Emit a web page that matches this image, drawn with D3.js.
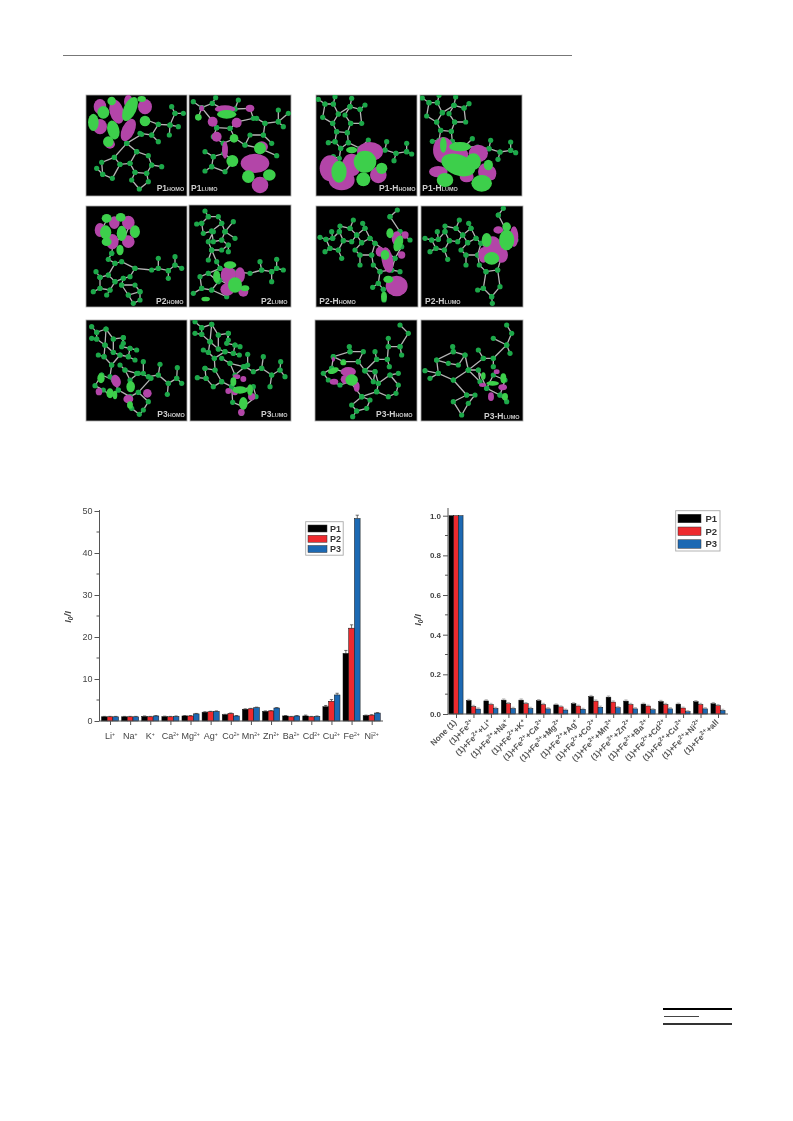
<!DOCTYPE html>
<html><head><meta charset="utf-8">
<script src="https://cdnjs.cloudflare.com/ajax/libs/d3/7.8.5/d3.min.js"></script>
<style>html,body{margin:0;padding:0;background:#fff}svg{display:block}text{font-family:"Liberation Sans",Arial,sans-serif}</style>
</head><body><svg id="c" width="793" height="1121"></svg>
<script>
// ---- chart data ----
const seriesNames = ["P1","P2","P3"];
const ionLabels = ["Li^{+}","Na^{+}","K^{+}","Ca^{2+}","Mg^{2+}","Ag^{+}","Co^{2+}","Mn^{2+}","Zn^{2+}","Ba^{2+}","Cd^{2+}","Cu^{2+}","Fe^{2+}","Ni^{2+}"];
const ionP1 = [1.0,1.0,1.1,1.05,1.2,2.1,1.5,2.8,2.3,1.2,1.2,3.4,16.1,1.3];
const ionP2 = [1.0,1.0,1.0,1.0,1.2,2.2,1.8,2.9,2.4,1.0,1.0,4.7,22.1,1.4];
const ionP3 = [1.0,1.0,1.2,1.1,1.7,2.3,1.2,3.2,3.1,1.2,1.1,6.2,48.2,1.9];
const ionErrP1 = [.1,.1,.1,.1,.1,.1,.1,.1,.1,.1,.2,.3,.7,.1];
const ionErrP2 = [.1,.1,.1,.1,.1,.1,.1,.1,.1,.1,.1,.4,.8,.1];
const ionErrP3 = [.1,.1,.1,.1,.1,.1,.1,.1,.1,.1,.1,.4,.8,.1];
const mixLabels = ["None (1)","(1)+Fe^{2+}","(1)+Fe^{2+}+Li^{+}","(1)+Fe^{2+}+Na^{+}","(1)+Fe^{2+}+K^{+}","(1)+Fe^{2+}+Ca^{2+}","(1)+Fe^{2+}+Mg^{2+}","(1)+Fe^{2+}+Ag^{+}","(1)+Fe^{2+}+Co^{2+}","(1)+Fe^{2+}+Mn^{2+}","(1)+Fe^{2+}+Zn^{2+}","(1)+Fe^{2+}+Ba^{2+}","(1)+Fe^{2+}+Cd^{2+}","(1)+Fe^{2+}+Cu^{2+}","(1)+Fe^{2+}+Ni^{2+}","(1)+Fe^{2+}+all"];
const mixP1 = [1,.068,.066,.07,.07,.067,.046,.052,.088,.085,.065,.05,.063,.05,.062,.052];
const mixP2 = [1,.038,.048,.052,.052,.048,.036,.04,.065,.06,.048,.04,.048,.03,.048,.042];
const mixP3 = [1,.025,.028,.028,.028,.026,.02,.024,.034,.032,.026,.022,.026,.012,.026,.018];
const mixErr = [0,.006,.006,.006,.006,.006,.005,.005,.006,.006,.006,.005,.006,.005,.006,.006];
const colors = ["#000000","#ee2a2e","#1f69b3"];
const axisGrey = "#555";

const svg = d3.select("#c");
const defs = svg.append("defs");
function blur(id,s){defs.append("filter").attr("id",id).attr("x","-10%").attr("y","-10%").attr("width","120%").attr("height","120%")
  .append("feGaussianBlur").attr("stdDeviation",s);}
blur("soft",0.6);blur("soft2",0.5);blur("blob",0.5);

// page rules
const rules = [[63,572,55.5,1,"#777"],[663,732,1009,2,"#000"],[664,699,1016.5,1,"#444"],[663,732,1024,2,"#333"]];
svg.selectAll("line.rule").data(rules).join("line").attr("class","rule")
  .attr("x1",d=>d[0]).attr("x2",d=>d[1]).attr("y1",d=>d[2]).attr("y2",d=>d[2])
  .attr("stroke-width",d=>d[3]).attr("stroke",d=>d[4]);

// rich text: x^{sup}
function rich(sel,str,supSize){
  sel.text(null);
  const parts = str.split(/(\^\{[^}]*\})/).filter(s=>s);
  let up=false;
  parts.forEach(p=>{
    if(p.startsWith("^{")){
      sel.append("tspan").attr("dy",-3).attr("font-size",supSize).text(p.slice(2,-1));up=true;
    } else {
      const t=sel.append("tspan").text(p);
      if(up){t.attr("dy",3);up=false;}
    }
  });
}

function barChart(o){
  const g = svg.append("g").attr("filter","url(#soft2)");
  const x0 = d3.scalePoint().domain(o.labels).range([o.first,o.last]);
  const x1 = d3.scaleBand().domain(seriesNames).range([-o.bw*1.5,o.bw*1.5]);
  const y = d3.scaleLinear().domain([0,o.max]).range([o.y0,o.yTop]);
  const values = [o.p1,o.p2,o.p3];
  values.forEach((vals,si)=>{
    const gs=g.append("g");
    gs.selectAll("rect").data(vals).join("rect")
      .attr("x",(d,i)=>x0(o.labels[i])+x1(seriesNames[si]))
      .attr("width",x1.bandwidth())
      .attr("y",d=>y(d)).attr("height",d=>o.y0-y(d))
      .attr("fill",colors[si]).attr("stroke","#111").attr("stroke-width",0.5);
    const errs=o.errs[si];
    const cx=i=>x0(o.labels[i])+x1(seriesNames[si])+x1.bandwidth()/2;
    gs.selectAll("path").data(vals).join("path")
      .attr("d",(d,i)=>errs[i]?`M${cx(i)},${y(d)}V${y(d+errs[i])}M${cx(i)-1.6},${y(d+errs[i])}H${cx(i)+1.6}`:null)
      .attr("stroke",o.errColor).attr("stroke-width",0.7).attr("fill","none");
  });
  const yAxis = d3.axisLeft(y).tickValues(o.yTicks).tickSize(5).tickPadding(2).tickFormat(o.fmt);
  const ya = g.append("g").attr("transform",`translate(${o.xAxis},0)`).call(yAxis);
  ya.selectAll("text").attr("font-size",o.fs).attr("font-weight",o.weight).attr("fill","#444");
  ya.selectAll("line").attr("stroke",axisGrey);
  ya.select(".domain").attr("stroke",axisGrey).attr("d",`M0,${o.y0}V${o.yEnd}`);
  g.append("g").attr("transform",`translate(${o.xAxis},0)`).selectAll("line").data(o.yMinor).join("line")
    .attr("x1",-3).attr("x2",0).attr("y1",d=>y(d)).attr("y2",d=>y(d)).attr("stroke",axisGrey);
  const xAxis = d3.axisBottom(x0).tickSize(4).tickFormat("");
  const xa = g.append("g").attr("transform",`translate(0,${o.y0})`).call(xAxis);
  xa.selectAll("line").attr("stroke",axisGrey);
  xa.select(".domain").attr("stroke",axisGrey).attr("d",`M${o.xAxis},0H${o.xEnd}`);
  o.labelFn(g,x0);
  const yt=g.append("text").attr("transform",`translate(${o.ytx},${o.yty}) rotate(-90)`)
    .attr("text-anchor","middle").attr("font-size",o.ytFs).attr("font-style","italic").attr("font-weight","bold").attr("fill","#444");
  yt.append("tspan").text("I");
  yt.append("tspan").attr("dy",2).attr("font-size",o.ytFs*0.7).text("0");
  yt.append("tspan").attr("dy",-2).text("/I");
  const lg=o.legend;
  g.append("rect").attr("x",lg.x).attr("y",lg.y).attr("width",lg.w).attr("height",lg.h)
    .attr("fill","#fff").attr("stroke","#aaa").attr("stroke-width",0.9);
  const ly=d3.scalePoint().domain(seriesNames).range([lg.y0,lg.y1]);
  seriesNames.forEach((s,i)=>{
    g.append("rect").attr("x",lg.sx).attr("y",ly(s)-lg.sh/2).attr("width",lg.sw).attr("height",lg.sh)
      .attr("fill",colors[i]).attr("stroke","#333").attr("stroke-width",0.5);
    g.append("text").attr("x",lg.tx).attr("y",ly(s)+lg.fs*0.36).attr("font-size",lg.fs).attr("font-weight","bold").attr("fill","#333").text(s);
  });
}

barChart({labels:ionLabels,first:110,last:371.7,bw:5.7,max:50,y0:721,yTop:511,yEnd:510,
  p1:ionP1,p2:ionP2,p3:ionP3,errs:[ionErrP1,ionErrP2,ionErrP3],errColor:"#333",
  xAxis:99.5,xEnd:383,yTicks:[0,10,20,30,40,50],yMinor:[5,15,25,35,45],fmt:d3.format("d"),fs:9,weight:"normal",
  ytx:71,yty:617,ytFs:9.5,
  labelFn:(g,x0)=>{
    g.selectAll("text.tl").data(ionLabels).join("text").attr("class","tl")
      .attr("x",d=>x0(d)).attr("y",739).attr("text-anchor","middle").attr("font-size",9).attr("fill","#444")
      .each(function(d){rich(d3.select(this),d,5);});
  },
  legend:{x:305.7,y:521.7,w:37.5,h:33.5,sx:308,sw:19,sh:7,y0:528.5,y1:549,tx:330,fs:9}
});

barChart({labels:mixLabels,first:456,last:718,bw:4.7,max:1,y0:714,yTop:515.7,yEnd:508,
  p1:mixP1,p2:mixP2,p3:mixP3,errs:[mixErr,mixErr,mixErr],errColor:"#999",
  xAxis:448,xEnd:728,yTicks:[0,.2,.4,.6,.8,1],yMinor:[.1,.3,.5,.7,.9],fmt:d3.format(".1f"),fs:8,weight:"bold",
  ytx:421,yty:620,ytFs:9.5,
  labelFn:(g,x0)=>{
    g.selectAll("text.tl").data(mixLabels).join("text").attr("class","tl")
      .attr("transform",d=>`translate(${x0(d)+1},${723}) rotate(-45)`)
      .attr("text-anchor","end").attr("font-size",8.2).attr("font-weight","bold").attr("fill","#555")
      .each(function(d){rich(d3.select(this),d,6.2);});
  },
  legend:{x:675.7,y:510.7,w:44.3,h:40.3,sx:678,sw:23,sh:8.5,y0:518.5,y1:544,tx:705.5,fs:9.5}
});

// ---- orbital illustration panels (coordinates are in 3x crop pixels) ----
const M="#b345a8", G="#3ecf4c";
const molP1H = [[[25,28],[45,42],[70,42],[75,20]],[[45,42],[38,82],[68,100],[85,72],[70,42]],[[85,72],[120,50],[125,25]],[[120,50],[150,58],[165,45]],[[150,58],[155,100],[122,100],[105,75],[120,50]],[[68,100],[80,125],[112,128],[122,100]],[[80,125],[75,155],[55,158]],[[75,155],[92,175],[115,158],[112,128]],[[92,175],[88,205],[70,200]],[[115,158],[150,175],[175,150]],[[150,175],[190,175],[225,180],[258,190],[290,185],[305,192]],[[225,180],[230,155]],[[258,190],[252,212]],[[290,185],[290,160]]];
const panels = [
 {ox:80,oy:85,x:86,y:95,w:101,h:101,label:"P1",sub:"HOMO",lx:230,ly:319,
  blobs:[[60,65,18,22,0,M],[110,80,20,36,-15,M],[145,50,12,20,0,M],[195,65,20,22,0,M],[60,125,20,22,0,M],[145,135,18,35,25,M],[90,178,14,12,0,M],[70,82,17,18,0,G],[40,112,15,25,0,G],[150,72,18,38,25,G],[100,135,17,28,-15,G],[195,108,15,15,0,G],[85,170,15,15,0,G],[95,48,12,12,0,G],[185,42,12,8,0,G]],
  bonds:[[[140,175],[170,200],[150,235],[120,238],[103,217],[140,175]],[[150,235],[165,262],[200,265],[215,240],[205,212],[170,200]],[[165,262],[155,285],[178,312],[205,290],[200,265]],[[120,238],[97,280],[68,268],[65,232],[103,217]],[[68,268],[50,250]],[[215,240],[245,245]],[[140,175],[185,148],[180,145],[215,150],[235,118],[270,120],[285,85],[310,85]],[[285,85],[275,65]],[[270,120],[295,125]],[[270,120],[268,150]],[[235,118],[200,105]],[[215,150],[235,170]]]},
 {ox:80,oy:85,x:189,y:95,w:102,h:101,label:"P1",sub:"LUMO",lx:333,ly:319,
  blobs:[[365,70,6,8,0,M],[435,72,30,10,0,M],[510,70,12,10,0,M],[398,110,14,14,0,M],[470,113,14,14,0,M],[410,155,14,14,0,M],[435,195,8,25,0,M],[545,185,18,15,0,M],[525,235,42,28,0,M],[540,300,24,24,0,M],[355,97,9,9,0,G],[440,88,28,12,0,G],[540,190,17,17,0,G],[462,160,12,12,0,G],[457,228,17,17,0,G],[505,275,18,18,0,G],[568,270,18,16,0,G]],
  bonds:[[[340,50],[365,68],[355,97]],[[365,68],[397,55],[407,38]],[[397,55],[430,72],[465,72],[475,45]],[[465,72],[510,70],[520,100],[475,110],[450,130],[410,128],[395,105],[365,68]],[[450,130],[465,160],[430,175],[400,155],[410,128]],[[430,175],[432,205],[400,215],[375,200]],[[400,215],[395,245],[375,258]],[[395,245],[435,260],[460,228],[432,205]],[[465,160],[495,180],[510,150],[550,150],[555,115],[595,110],[595,75]],[[555,115],[530,100]],[[595,110],[625,85]],[[595,110],[610,125]],[[550,150],[575,175]],[[495,180],[540,190]],[[540,190],[590,212]]]},
 {ox:310,oy:90,x:316,y:95,w:101,h:101,label:"P1-H",sub:"HOMO",lx:207,ly:302,
  blobs:[[60,235,30,38,0,M],[95,270,38,30,0,M],[125,225,28,33,0,M],[180,185,38,28,0,M],[205,255,24,24,0,M],[87,245,22,32,0,G],[165,215,33,32,0,G],[160,268,20,20,0,G],[215,235,16,16,0,G],[125,180,16,9,0,G]],
  bonds:molP1H},
 {ox:310,oy:90,x:420,y:95,w:102,h:101,label:"P1-H",sub:"LUMO",lx:337,ly:302,dx:312,dy:-4,
  blobs:[[400,180,30,38,0,M],[440,195,34,27,0,M],[505,190,28,25,0,M],[385,245,27,16,0,M],[470,260,20,16,0,M],[525,245,20,24,0,M],[545,250,13,20,0,M],[450,170,32,13,0,G],[445,225,52,30,20,G],[490,215,22,24,0,G],[405,270,24,20,0,G],[515,280,30,24,0,G],[535,225,13,15,0,G],[400,165,9,22,0,G]],
  bonds:molP1H},
 {ox:80,oy:200,x:86,y:206,w:101,h:101,label:"P2",sub:"HOMO",lx:228,ly:311,
  blobs:[[60,90,15,20,0,M],[103,68,15,18,0,M],[145,68,18,20,0,M],[97,125,18,22,0,M],[145,125,18,18,0,M],[160,95,10,14,0,M],[80,55,14,12,0,G],[122,52,14,12,0,G],[77,97,16,20,0,G],[165,95,14,18,0,G],[125,100,14,22,0,G],[120,150,10,15,0,G],[80,125,14,12,0,G]],
  bonds:[[[60,100],[80,60],[120,50],[150,70],[135,110],[100,125],[75,100],[60,100]],[[100,125],[95,160]],[[95,160],[85,178],[105,190],[125,185],[165,205],[150,230],[130,235],[105,245],[85,225],[105,190]],[[60,232],[48,215]],[[60,232],[85,225]],[[105,245],[90,270],[60,265],[60,232]],[[60,265],[40,275]],[[90,270],[80,285]],[[165,205],[215,210],[235,205],[265,212],[285,195],[305,205]],[[235,205],[235,175]],[[265,212],[265,235]],[[285,195],[285,170]],[[130,235],[125,255],[145,285],[180,275],[165,255],[125,255]],[[145,285],[160,310],[180,300],[180,275]]]},
 {ox:80,oy:200,x:189,y:205,w:102,h:102,label:"P2",sub:"LUMO",lx:543,ly:311,
  blobs:[[445,225,22,25,0,M],[480,225,14,22,0,M],[442,268,20,18,0,M],[490,275,14,14,0,M],[410,230,10,18,0,G],[450,195,18,10,0,G],[465,255,20,22,0,G],[495,265,12,8,0,G],[377,297,12,6,0,G]],
  bonds:[[[375,33],[385,50],[365,70],[350,72]],[[365,70],[370,100],[395,93],[400,125],[425,120],[445,135],[425,150],[395,150],[385,125],[400,95]],[[395,93],[425,70],[415,50],[385,50]],[[425,70],[435,95],[460,65]],[[435,95],[425,120]],[[435,95],[465,115]],[[445,135],[445,155]],[[395,150],[385,180]],[[395,150],[410,185],[420,205],[460,215],[510,220],[545,210],[575,215],[590,205],[610,210]],[[545,210],[540,185]],[[575,215],[575,245]],[[590,205],[590,178]],[[420,205],[385,220],[360,230],[365,265],[395,270],[415,245],[385,220]],[[365,265],[340,280]],[[395,270],[440,290],[455,260],[420,240]]]},
 {ox:310,oy:200,x:316,y:206,w:102,h:101,label:"P2-H",sub:"HOMO",lx:28,ly:313,
  blobs:[[260,258,32,30,0,M],[232,180,16,38,-10,M],[210,155,12,14,0,M],[260,115,14,20,0,M],[285,105,10,10,0,M],[275,165,10,10,0,M],[225,165,12,14,0,G],[235,238,14,10,0,G],[222,290,8,14,0,G],[265,130,12,24,20,G],[240,100,10,14,0,G]],
  bonds:[[[30,112],[48,118],[68,115],[65,95]],[[48,118],[60,145],[85,150],[100,122],[88,95],[68,115]],[[60,145],[45,155]],[[85,150],[95,175]],[[100,122],[125,125],[140,105],[120,85],[90,78],[88,95]],[[120,85],[130,60]],[[140,105],[165,85],[158,70]],[[140,105],[155,128],[180,115],[165,85]],[[155,128],[135,150],[150,165],[185,165],[195,130],[180,115]],[[150,165],[150,195]],[[185,165],[190,195],[210,215],[245,210],[255,175],[195,130]],[[210,215],[205,250],[220,268]],[[205,250],[188,262]],[[220,268],[222,300]],[[245,210],[270,215]],[[255,175],[275,140],[270,95],[240,50]],[[270,95],[300,120]],[[240,50],[262,30]]]},
 {ox:310,oy:200,x:421,y:206,w:102,h:101,label:"P2-H",sub:"LUMO",lx:345,ly:313,
  blobs:[[548,150,28,40,0,M],[520,165,14,22,0,M],[575,165,18,22,0,M],[612,110,12,30,0,M],[565,90,14,10,0,M],[590,120,22,30,0,G],[545,175,22,18,0,G],[530,120,14,20,0,G],[590,80,12,12,0,G]],
  bonds:[[[345,115],[365,120],[385,118],[382,95]],[[365,120],[378,145],[403,150],[418,122],[405,95],[385,118]],[[378,145],[360,155]],[[403,150],[413,178]],[[418,122],[443,125],[458,105],[438,85],[405,78],[405,95]],[[438,85],[448,60]],[[458,105],[483,85],[476,70]],[[458,105],[473,128],[498,115],[483,85]],[[473,128],[453,150],[468,165],[503,165],[513,130],[498,115]],[[468,165],[468,195]],[[503,165],[508,195],[528,215],[563,210],[573,175],[513,130]],[[528,215],[520,265],[545,290],[570,260],[563,210]],[[520,265],[503,270]],[[545,290],[547,310]],[[573,175],[593,140],[588,90],[565,45]],[[588,90],[618,120]],[[565,45],[580,25]]]},
 {ox:80,oy:315,x:86,y:320,w:101,h:101,label:"P3",sub:"HOMO",lx:232,ly:305,
  blobs:[[108,198,13,18,-20,M],[57,230,9,10,0,M],[145,252,14,12,0,M],[202,235,12,12,0,M],[63,190,10,14,0,G],[152,215,12,16,0,G],[90,235,10,14,0,G],[105,240,6,12,0,G],[150,270,8,10,0,G]],
  bonds:[[[35,35],[50,52],[78,42],[100,72],[130,68],[125,95],[150,100],[145,125],[120,120],[100,112],[75,90],[50,72],[35,70]],[[50,52],[50,72]],[[78,42],[75,90]],[[100,72],[100,112]],[[130,68],[130,85]],[[150,100],[170,105]],[[145,125],[165,135]],[[75,90],[72,125],[95,150],[120,120]],[[72,125],[55,120]],[[95,150],[90,185]],[[120,150],[135,165],[150,195],[175,175],[205,185],[235,180],[265,205],[290,190],[305,205]],[[135,165],[170,175]],[[190,175],[190,140]],[[235,180],[240,148]],[[265,205],[262,238]],[[290,190],[292,158]],[[65,180],[45,212],[70,225],[90,240],[115,225],[100,195],[65,180]],[[115,225],[150,245],[175,232],[205,260],[190,285],[178,298],[155,280],[150,245]],[[175,232],[213,190]]]},
 {ox:80,oy:315,x:190,y:320,w:101,h:101,label:"P3",sub:"LUMO",lx:543,ly:305,
  blobs:[[470,185,10,6,0,M],[490,192,8,8,0,M],[445,228,8,8,0,M],[465,232,8,8,0,M],[515,245,10,10,0,M],[484,292,9,10,0,M],[480,225,22,10,0,G],[460,200,8,12,0,G],[490,265,12,18,0,G],[510,225,8,16,0,G]],
  bonds:[[[345,20],[365,38],[395,28],[415,60],[445,55],[440,85],[465,90],[460,115],[435,110],[415,102],[390,80],[365,58],[345,55]],[[365,38],[365,58]],[[395,28],[390,80]],[[415,60],[415,102]],[[445,55],[445,75]],[[465,90],[480,95]],[[460,115],[478,120]],[[390,80],[385,112],[403,130],[435,110]],[[385,112],[370,105]],[[403,130],[405,165]],[[425,130],[450,145],[465,180],[495,155],[520,170],[545,160],[575,180],[600,165],[615,185]],[[450,145],[490,155]],[[503,150],[503,118]],[[545,160],[550,125]],[[575,180],[570,215]],[[600,165],[602,140]],[[375,160],[378,190],[400,215],[425,200],[405,165],[375,160]],[[378,190],[352,188]],[[425,200],[455,215],[480,225],[520,215],[528,245],[490,275],[458,262],[455,215]],[[490,275],[485,295]]]},
 {ox:310,oy:300,x:315,y:320,w:102,h:101,label:"P3-H",sub:"HOMO",lx:198,ly:352,
  blobs:[[115,215,22,13,0,M],[105,238,12,12,0,M],[72,245,12,8,0,M],[140,260,8,14,0,M],[70,178,4,6,0,M],[70,212,16,8,-20,G],[125,240,18,16,0,G],[100,188,8,7,0,G]],
  bonds:[[[270,75],[295,100],[270,140],[235,140],[232,178],[200,178],[195,155]],[[270,140],[275,165]],[[235,140],[235,115]],[[232,178],[238,200]],[[200,178],[165,212],[190,245],[195,215],[165,212]],[[195,215],[205,250],[200,275],[235,290],[258,280],[265,255],[240,225],[205,250]],[[240,225],[265,220]],[[200,275],[155,290],[180,300],[170,325],[140,333],[125,315],[155,290]],[[140,333],[128,350]],[[155,290],[120,245],[90,255],[55,240],[40,220],[65,205],[100,215],[120,245]],[[65,205],[70,170],[120,155],[160,155],[145,185],[100,185],[70,170]],[[145,185],[165,212]],[[120,155],[118,140]]]},
 {ox:310,oy:300,x:421,y:320,w:102,h:101,label:"P3-H",sub:"LUMO",lx:522,ly:357,
  blobs:[[518,255,10,5,0,M],[543,290,8,12,0,M],[578,262,12,8,0,M],[560,215,8,6,0,M],[520,228,6,10,0,G],[585,290,8,10,0,G],[580,235,8,14,0,G],[548,250,18,6,0,G]],
  bonds:[[[590,75],[605,100],[590,135],[550,175],[520,175],[505,150]],[[590,135],[600,160]],[[550,175],[550,200]],[[590,135],[550,115]],[[520,175],[475,210],[510,245],[505,210],[475,210]],[[475,210],[430,240],[385,220],[345,212]],[[385,220],[360,235]],[[385,220],[380,180],[430,155],[465,165],[445,195],[415,190],[380,180]],[[430,155],[428,140]],[[465,165],[475,210]],[[430,240],[470,285],[495,285],[475,310],[455,345],[430,305],[470,285]],[[505,210],[530,265],[570,285],[585,240],[550,225],[530,265]],[[570,285],[590,305]]]}
];
const gPanels = svg.append("g").attr("filter","url(#soft)");
panels.forEach(p=>{
  const px=d3.scaleLinear().domain([0,3]).range([p.ox,p.ox+1]);
  const py=d3.scaleLinear().domain([0,3]).range([p.oy,p.oy+1]);
  const dx=p.dx||0, dy=p.dy||0;
  const g=gPanels.append("g");
  g.append("rect").attr("x",p.x).attr("y",p.y).attr("width",p.w).attr("height",p.h)
    .attr("fill","#000").attr("stroke","#aaa").attr("stroke-width",0.8);
  const clipId="clip"+p.x+"_"+p.y;
  defs.append("clipPath").attr("id",clipId).append("rect").attr("x",p.x).attr("y",p.y).attr("width",p.w).attr("height",p.h);
  const inner=g.append("g").attr("clip-path",`url(#${clipId})`);
  const pts=p.bonds.map(l=>l.map(q=>[q[0]+dx,q[1]+dy]));
  const line=d3.line().x(d=>px(d[0])).y(d=>py(d[1]));
  inner.selectAll("path.b").data(pts).join("path").attr("class","b").attr("d",line)
    .attr("fill","none").attr("stroke","#b5b5b5").attr("stroke-width",1.3);
  inner.selectAll("circle.a").data(pts.flat()).join("circle").attr("class","a")
    .attr("cx",d=>px(d[0])).attr("cy",d=>py(d[1])).attr("r",2.6).attr("fill","#1fa84a");
  inner.append("g").attr("filter","url(#blob)").selectAll("ellipse.o").data(p.blobs).join("ellipse").attr("class","o")
    .attr("transform",d=>`translate(${px(d[0])},${py(d[1])}) rotate(${d[4]})`)
    .attr("rx",d=>d[2]/3+0.3).attr("ry",d=>d[3]/3+0.3).attr("fill",d=>d[5]);
  const t=g.append("text").attr("x",px(p.lx)).attr("y",py(p.ly)).attr("fill","#ccc").attr("font-weight","bold").attr("font-size",8.5);
  t.append("tspan").text(p.label);
  t.append("tspan").attr("font-size",5.5).text(p.sub);
});
</script></body></html>
